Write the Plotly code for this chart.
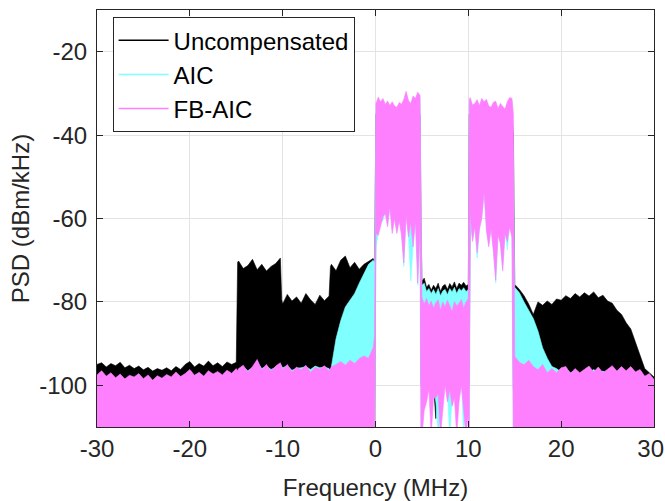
import plotly.graph_objects as go

# Frequency grid (MHz), segment by segment
freq = [
    -30.0, -29.5, -29.0, -28.5, -28.0, -27.5, -27.0, -26.5, -26.0, -25.5, -25.0, -24.5, -24.0, -23.5, -23.0, -22.5,
    -22.0, -21.5, -21.0, -20.5, -20.0, -19.5, -19.0, -18.5, -18.0, -17.5, -17.0, -16.5, -16.0, -15.5, -15.0,
    -14.85,
    -14.75, -14.25, -13.75, -13.25, -12.75, -12.25, -11.75, -11.25, -10.75, -10.25,
    -10.1,
    -10.0, -9.5, -9.0, -8.5, -8.0, -7.5, -7.0, -6.5, -6.0, -5.5, -5.0,
    -4.85,
    -4.75, -4.25, -3.75, -3.25, -2.75, -2.25, -1.75, -1.25, -0.75, -0.25,
    -0.1,
    0.05, 0.3, 0.55, 0.8, 1.05, 1.3, 1.55, 1.8, 2.05, 2.3, 2.55, 2.8, 3.05, 3.3, 3.55, 3.8, 4.05, 4.3, 4.55, 4.8,
    4.9,
    5.0, 5.25, 5.5, 5.75, 6.0, 6.25, 6.5, 6.75, 7.0, 7.25, 7.5, 7.75, 8.0, 8.25, 8.5, 8.75, 9.0, 9.25, 9.5, 9.75, 10.0,
    10.1,
    10.2, 10.45, 10.7, 10.95, 11.2, 11.45, 11.7, 11.95, 12.2, 12.45, 12.7, 12.95, 13.2, 13.45, 13.7, 13.95, 14.2, 14.45, 14.7,
    14.85,
    15.0, 15.5, 16.0, 16.5, 17.0, 17.5, 18.0, 18.5, 19.0, 19.5, 20.0, 20.5, 21.0, 21.5, 22.0, 22.5,
    23.0, 23.5, 24.0, 24.5, 25.0, 25.5, 26.0, 26.5, 27.0, 27.5, 28.0, 28.5, 29.0, 29.5, 30.0,
]

# Uncompensated: upper / lower envelope of the PSD trace (dBm/kHz)
unc_upper = [
    -95.0, -94.6, -95.6, -94.8, -95.3, -94.5, -95.8, -95.2, -96.0, -95.4, -96.3, -95.7, -96.6, -96.0, -96.4, -95.8,
    -96.5, -95.5, -96.2, -95.0, -94.3, -95.6, -94.8, -95.4, -94.2, -95.3, -94.6, -95.5, -94.4, -95.0, -94.5,
    -70.5,
    -70.2, -72.0, -71.3, -69.8, -72.3, -71.0, -72.6, -71.5, -70.8, -69.5,
    -79.5,
    -80.5, -78.2, -79.8, -78.8, -80.3, -78.0, -79.5, -80.6, -78.4, -79.7, -78.6,
    -71.5,
    -71.0, -72.5, -70.0, -69.0, -71.8, -70.5, -72.2, -71.0, -70.3, -69.6,
    -70.5,
    -35.0, -35.0, -35.0, -35.0, -35.0, -35.0, -35.0, -35.0, -35.0, -35.0, -35.0, -35.0, -35.0, -35.0, -35.0, -35.0, -35.0, -35.0, -35.0, -35.0,
    -60.0,
    -75.0, -74.3, -76.5, -75.8, -77.2, -76.0, -76.8, -75.5, -77.5, -76.2, -75.8, -77.0, -75.6, -76.4, -75.2, -76.8, -75.5, -76.0, -75.3, -76.2, -75.8,
    -35.0,
    -35.5, -35.5, -35.5, -35.5, -35.5, -35.5, -35.5, -35.5, -35.5, -35.5, -35.5, -35.5, -35.5, -35.5, -35.5, -35.5, -35.5, -35.5, -35.5,
    -40.0,
    -75.8, -77.0, -78.5, -80.5, -83.0, -80.0, -80.8, -79.8, -80.6, -79.3, -79.6, -78.5, -79.2, -78.0, -78.8, -77.8,
    -78.6, -77.6, -79.0, -78.4, -79.8, -80.3, -82.0, -83.0, -85.0, -86.5, -89.5, -92.5, -96.0, -97.0, -98.0,
]
unc_lower = [
    -115, -115, -115, -115, -115, -115, -115, -115, -115, -115, -115, -115, -115, -115, -115, -115,
    -115, -115, -115, -115, -115, -115, -115, -115, -115, -115, -115, -115, -115, -115, -115,
    -115,
    -115, -115, -115, -115, -115, -115, -115, -115, -115, -115,
    -115,
    -115, -115, -115, -115, -115, -115, -115, -115, -115, -115, -115,
    -115,
    -115, -115, -115, -115, -115, -115, -115, -115, -115, -115,
    -115,
    -50, -50, -50, -50, -50, -50, -50, -50, -50, -50, -50, -50, -50, -50, -50, -50, -50, -50, -50, -50,
    -100,
    -100, -101, -99, -99, -102, -100, -108, -99, -101, -99, -99, -100, -100, -101, -99, -100, -102, -99, -101, -100, -100,
    -100,
    -50, -50, -50, -50, -50, -50, -50, -50, -50, -50, -50, -50, -50, -50, -50, -50, -50, -50, -50,
    -100,
    -115, -115, -115, -115, -115, -115, -115, -115, -115, -115, -115, -115, -115, -115, -115, -115,
    -115, -115, -115, -115, -115, -115, -115, -115, -115, -115, -115, -115, -115, -115, -115,
]

# AIC
aic_upper = [
    -97.8, -97.0, -98.0, -97.4, -98.4, -97.6, -98.6, -97.9, -98.2, -97.5, -98.6, -97.8, -98.9, -98.0, -98.5, -97.7,
    -98.2, -97.2, -98.1, -97.5, -96.8, -97.8, -97.2, -98.0, -96.9, -97.6, -97.0, -97.7, -96.8, -97.4, -96.5,
    -97.0,
    -96.3, -95.6, -96.5, -95.8, -94.5, -96.0, -95.4, -96.2, -95.7, -95.0,
    -95.5,
    -95.8, -95.3, -96.4, -95.9, -95.8, -95.5, -96.2, -95.4, -95.8, -95.6, -96.0,
    -96.5,
    -95.5, -88.8, -84.5, -81.2, -79.5, -78.0, -75.5, -73.2, -71.0, -70.0,
    -70.5,
    -32.8, -31.5, -32.4, -31.6, -33.0, -32.2, -33.2, -32.4, -33.3, -33.6, -32.6, -33.0, -31.8, -30.0, -32.0, -32.8, -31.0, -31.6, -30.2, -31.0,
    -58.0,
    -76.0, -75.5, -77.5, -76.8, -78.0, -77.0, -78.2, -76.8, -78.5, -77.4, -77.0, -78.3, -76.8, -77.6, -76.5, -78.0, -76.8, -77.3, -76.6, -77.5, -77.0,
    -32.0,
    -31.5, -33.2, -32.8, -32.0, -33.3, -31.7, -32.4, -31.9, -33.4, -33.7, -32.5, -32.3, -34.0, -32.8, -33.5, -34.2, -32.4, -31.5, -31.7,
    -45.0,
    -76.5, -77.8, -80.0, -82.0, -84.0, -87.0, -91.0, -93.5, -95.5, -96.0, -96.8, -96.0, -97.0, -96.5, -97.2, -96.4,
    -97.0, -96.2, -97.0, -96.6, -97.2, -96.5, -97.0, -96.3, -96.8, -96.0, -97.0, -97.4, -98.0, -98.5, -99.0,
]
aic_lower = [
    -115, -115, -115, -115, -115, -115, -115, -115, -115, -115, -115, -115, -115, -115, -115, -115,
    -115, -115, -115, -115, -115, -115, -115, -115, -115, -115, -115, -115, -115, -115, -115,
    -115,
    -115, -115, -115, -115, -115, -115, -115, -115, -115, -115,
    -115,
    -115, -115, -115, -115, -115, -115, -115, -115, -115, -115, -115,
    -115,
    -115, -115, -115, -115, -115, -115, -115, -115, -115, -115,
    -115,
    -67.0, -63.5, -61.0, -60.5, -58.3, -61.5, -56.7, -63.0, -59.5, -63.0, -60.0, -63.5, -71.5, -58.7, -64.0, -75.0, -66.3, -60.0, -76.0, -61.5,
    -115,
    -105, -104, -102, -100, -103, -101, -104, -112, -106, -103, -99, -102, -112, -103, -101, -104, -102, -99, -112, -104, -104,
    -115,
    -61.0, -65.0, -61.5, -69.5, -62.0, -59.5, -53.0, -62.5, -66.3, -62.0, -67.5, -75.5, -63.5, -65.5, -72.1, -63.1, -67.5, -61.5, -64.0,
    -115,
    -115, -115, -115, -115, -115, -115, -115, -115, -115, -115, -115, -115, -115, -115, -115, -115,
    -115, -115, -115, -115, -115, -115, -115, -115, -115, -115, -115, -115, -115, -115, -115,
]

# FB-AIC
fb_upper = [
    -97.5, -96.5, -97.8, -97.0, -98.2, -97.3, -98.5, -97.6, -98.0, -97.2, -98.4, -97.5, -98.8, -97.7, -98.3, -97.4,
    -98.0, -96.8, -97.9, -97.2, -96.2, -97.6, -96.9, -97.8, -96.5, -97.3, -96.7, -97.5, -96.4, -97.1, -96.0,
    -96.5,
    -96.0, -95.2, -96.8, -95.5, -93.8, -96.3, -95.0, -96.6, -95.4, -94.6,
    -95.5,
    -96.2, -95.0, -96.8, -95.6, -96.3, -95.2, -96.9, -95.7, -96.1, -95.3, -96.5,
    -96.0,
    -95.6, -95.0, -94.3, -95.2, -94.0, -94.8, -93.6, -93.0, -93.5, -91.0,
    -88.0,
    -32.4, -30.9, -32.0, -31.2, -32.6, -31.8, -32.9, -32.0, -33.0, -33.3, -32.2, -32.6, -31.4, -29.5, -31.7, -32.4, -30.6, -31.2, -29.7, -30.5,
    -55.0,
    -79.0, -80.5, -79.2, -81.0, -79.8, -81.5, -80.2, -79.5, -82.0, -80.0, -81.2, -79.6, -80.8, -82.3, -79.9, -81.0, -80.3, -79.4, -81.5, -80.0, -79.2,
    -31.5,
    -31.0, -32.8, -32.4, -31.5, -32.9, -31.2, -32.0, -31.4, -33.0, -33.3, -32.1, -31.9, -33.6, -32.4, -33.1, -33.8, -32.0, -31.0, -31.2,
    -35.0,
    -93.1, -94.5, -95.1, -94.0, -95.5, -96.3, -95.0, -97.0, -96.0, -97.0, -95.8, -95.5, -97.2, -96.0, -97.0, -96.2,
    -95.4, -96.8, -95.6, -97.0, -96.2, -95.3, -96.6, -95.5, -96.5, -95.5, -96.8, -96.2, -97.8, -97.2, -98.6,
]
fb_lower = [
    -115, -115, -115, -115, -115, -115, -115, -115, -115, -115, -115, -115, -115, -115, -115, -115,
    -115, -115, -115, -115, -115, -115, -115, -115, -115, -115, -115, -115, -115, -115, -115,
    -115,
    -115, -115, -115, -115, -115, -115, -115, -115, -115, -115,
    -115,
    -115, -115, -115, -115, -115, -115, -115, -115, -115, -115, -115,
    -115,
    -115, -115, -115, -115, -115, -115, -115, -115, -115, -115,
    -115,
    -63.6, -64.0, -61.5, -59.6, -58.8, -62.0, -57.2, -63.6, -60.0, -63.6, -60.5, -64.0, -70.7, -59.2, -64.4, -61.0, -66.8, -60.5, -75.5, -62.0,
    -115,
    -112, -106, -104, -101, -112, -103, -103, -102, -112, -106, -100, -104, -101, -105, -103, -112, -104, -100, -106, -112, -107,
    -115,
    -58.8, -65.5, -62.0, -68.3, -62.5, -60.0, -53.5, -63.0, -66.8, -62.5, -68.0, -74.8, -64.0, -66.0, -72.6, -63.6, -65.5, -62.0, -64.5,
    -115,
    -115, -115, -115, -115, -115, -115, -115, -115, -115, -115, -115, -115, -115, -115, -115, -115,
    -115, -115, -115, -115, -115, -115, -115, -115, -115, -115, -115, -115, -115, -115, -115,
]

series_names = ["Uncompensated", "AIC", "FB-AIC"]
series_colors = ["#000000", "#80FFFF", "#FF80FF"]
x_ticks = [-30, -20, -10, 0, 10, 20, 30]
# the last label carries a trailing no-break space so it stays inside the right edge
x_ticktext = ["-30", "-20", "-10", "0", "10", "20", "30\u00a0"]
y_ticks = [-100, -80, -60, -40, -20]

for arr in (unc_upper, unc_lower, aic_upper, aic_lower, fb_upper, fb_lower):
    assert len(arr) == len(freq), len(arr)

fig = go.Figure()
envelopes = [(unc_upper, unc_lower), (aic_upper, aic_lower), (fb_upper, fb_lower)]
for (up, lo), name, col in zip(envelopes, series_names, series_colors):
    fig.add_trace(go.Scatter(
        x=freq + freq[::-1], y=up + lo[::-1],
        mode="lines", fill="toself", fillcolor=col,
        line=dict(color=col, width=0.6),
        showlegend=False, hoverinfo="skip",
    ))
for name, col in zip(series_names, series_colors):
    fig.add_trace(go.Scatter(x=[None], y=[None], mode="lines", name=name,
                             line=dict(color=col, width=1.5)))

axis_common = dict(
    showline=True, linecolor="#262626", linewidth=1, mirror="ticks",
    ticks="inside", ticklen=6, tickcolor="#262626", tickwidth=1,
    showgrid=True, gridcolor="#e3e3e3", gridwidth=1, zeroline=False,
    tickfont=dict(size=24, color="#262626"), automargin=False,
    ticklabeloverflow="allow",
)
fig.update_xaxes(range=[-30, 30], tickvals=x_ticks, ticktext=x_ticktext,
                 title=dict(text="Frequency (MHz)", font=dict(size=24, color="#262626"), standoff=18),
                 **axis_common)
fig.update_yaxes(range=[-110, -10], tickvals=y_ticks, ticktext=[str(v) for v in y_ticks],
                 title=dict(text="PSD (dBm/kHz)", font=dict(size=24, color="#262626"), standoff=2),
                 ticklabelstandoff=4,
                 **axis_common)

fig.update_layout(
    width=665, height=501,
    margin=dict(l=97, r=11, t=10, b=74, autoexpand=False),
    paper_bgcolor="white", plot_bgcolor="white",
    font=dict(family="Liberation Sans, Arial, sans-serif", size=24, color="#262626"),
    legend=dict(x=0.028, y=0.983, xanchor="left", yanchor="top",
                bgcolor="white", bordercolor="#262626", borderwidth=1,
                font=dict(size=24, color="#000000"), itemwidth=50,
                tracegroupgap=0),
    showlegend=True,
)

# remove the browser's default page margin and scrollbars so the figure fills the window exactly
fig.write_html(
    "out.html",
    config={"displayModeBar": False},
    post_script="document.body.style.margin='0';document.body.style.overflow='hidden';"
                "document.documentElement.style.overflow='hidden';",
)
